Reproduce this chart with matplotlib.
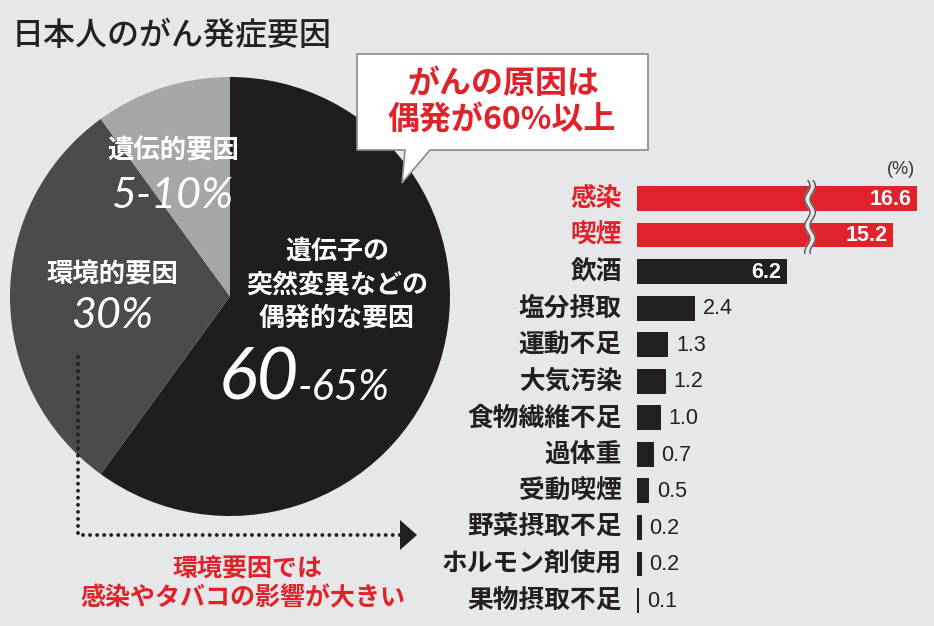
import numpy as np
import matplotlib
matplotlib.use('Agg')
import matplotlib.pyplot as plt
from matplotlib.patches import Polygon

W, H = 934, 626
BG = '#e6e7e8'
RED = '#e0232b'
DARK = '#221f20'
JP = ['Noto Sans CJK JP', 'DejaVu Sans']
NUMF = ['Lato', 'DejaVu Sans']

title = '日本人のがん発症要因'
callout = ['がんの原因は', '偶発が60%以上']
note = ['環境要因では', '感染やタバコの影響が大きい']

pie_values = [60, 30, 10]
pie_colors = ['#1f1d1e', '#4b4b4d', '#a4a6a8']
pie_names = ['遺伝子の\n突然変異などの\n偶発的な要因', '環境的要因', '遺伝的要因']
pie_pct = ['60', '-65%', '30%', '5-10%']

bar_categories = ['感染', '喫煙', '飲酒', '塩分摂取', '運動不足', '大気汚染',
                  '食物繊維不足', '過体重', '受動喫煙', '野菜摂取不足',
                  'ホルモン剤使用', '果物摂取不足']
bar_values = [16.6, 15.2, 6.2, 2.4, 1.3, 1.2, 1.0, 0.7, 0.5, 0.2, 0.2, 0.1]
bar_highlight = [True, True] + [False] * 10
unit = '(%)'

fig = plt.figure(figsize=(W / 100, H / 100), dpi=100, facecolor=BG)

def fbox(l, t, r, b):
    return [l / W, 1 - b / H, (r - l) / W, (b - t) / H]

# ---- pie ----
axp = fig.add_axes(fbox(10, 77, 450, 516))
axp.pie(pie_values, colors=pie_colors, startangle=90, counterclock=False,
        radius=1, wedgeprops=dict(linewidth=0))
axp.set_xlim(-1, 1); axp.set_ylim(-1, 1)
axp.set_aspect('auto')
axp.axis('off')

# ---- bars with broken axis ----
xp = np.array([-10, 0, 7.4, 14.0, 40])
fp = np.array([-10, 0, 7.4, 9.73, 9.73 + 0.707 * 26])
fwd = lambda v: np.interp(v, xp, fp)
inv = lambda v: np.interp(v, fp, xp)
PX = 24.2
axb = fig.add_axes(fbox(637, 180.2, 934, 618.8))
axb.set_xscale('function', functions=(fwd, inv))
axb.set_xlim(0, inv((934 - 637) / PX))
n = len(bar_categories)
axb.set_ylim(n - 0.5, -0.5)
axb.axis('off')
ypos = np.arange(n)
cols = [RED if h else DARK for h in bar_highlight]
axb.barh(ypos, bar_values, height=0.68, color=cols, linewidth=0)
for i, (c, v, h) in enumerate(zip(bar_categories, bar_values, bar_highlight)):
    axb.annotate(c, (0, i), xytext=(-11, 0), textcoords='offset points',
                 ha='right', va='center', fontsize=18.5, family=JP,
                 color=RED if h else '#231f20', fontweight='bold')
    if v > 5:
        axb.annotate(f'{v:.1f}', (v, i), xytext=(-4, -0.5), textcoords='offset points',
                     ha='right', va='center', fontsize=15.5, color='white',
                     family=['Liberation Sans'], fontweight='bold')
    else:
        axb.annotate(f'{v:.1f}', (v, i), xytext=(5.5, -0.5), textcoords='offset points',
                     ha='left', va='center', fontsize=15.5, color='#231f20',
                     family=['Liberation Sans'])
# break marks
yy = np.linspace(-0.52, 1.5, 200)
wave = 0.11 * np.sin((yy + 0.52) * 2 * np.pi / 0.72)
bx = 7.15
axb.plot(bx + wave, yy, color=BG, lw=4.5, solid_capstyle='butt', zorder=3)
axb.plot(bx - 0.11 + wave, yy, color='#555555', lw=1.0, zorder=4)
axb.plot(bx + 0.11 + wave, yy, color='#555555', lw=1.0, zorder=4)

# ---- overlay in pixel coords ----
ov = fig.add_axes([0, 0, 1, 1], facecolor='none')
ov.set_xlim(0, W); ov.set_ylim(H, 0); ov.axis('off')

ov.text(12, 36, title, fontsize=23, family=JP, fontweight='medium',
        color='#222222', ha='left', va='center')

# callout
box = Polygon([(357, 54), (648, 54), (648, 150), (430, 150), (402, 183),
               (405, 150), (357, 150)], closed=True, facecolor='white',
              edgecolor='#8a8a8a', linewidth=1.2, zorder=5)
ov.add_patch(box)
ov.text(503, 84, callout[0], fontsize=23, family=JP, fontweight='bold',
        color=RED, ha='center', va='center', zorder=6)
ov.text(502, 120, callout[1], fontsize=23, family=JP, fontweight='bold',
        color=RED, ha='center', va='center', zorder=6)

# pie labels
ov.text(173, 151, pie_names[2], fontsize=19, family=JP, fontweight='bold',
        color='white', ha='center', va='center')
ov.text(172, 208, pie_pct[3], fontsize=31, family=NUMF, style='italic',
        fontweight='normal', color='white', ha='center', va='baseline')
ov.text(112, 275, pie_names[1], fontsize=19, family=JP, fontweight='bold',
        color='white', ha='center', va='center')
ov.text(112, 328, pie_pct[2], fontsize=31, family=NUMF, style='italic',
        fontweight='normal', color='white', ha='center', va='baseline')
for k, (line, y) in enumerate(zip(pie_names[0].split('\n'), [251, 285, 318])):
    ov.text(337, y, line, fontsize=18.7, family=JP, fontweight='bold',
            color='white', ha='center', va='center')
ov.text(299, 400, pie_pct[0], fontsize=52, family=NUMF, style='italic',
        fontweight='normal', color='white', ha='right', va='baseline')
ov.text(298, 400, pie_pct[1], fontsize=30, family=NUMF, style='italic',
        fontweight='normal', color='white', ha='left', va='baseline')

# dotted arrow
ov.plot([78, 78, 401], [357, 535, 535], color='#231f20', lw=2.8,
        ls=(0, (0.01, 1.8)), dash_capstyle='round')
ov.add_patch(Polygon([(400, 520), (400, 550), (417, 535)], closed=True,
                     facecolor='#231f20', edgecolor='none'))
ov.text(247, 569, note[0], fontsize=18, family=JP, fontweight='bold',
        color=RED, ha='center', va='center')
ov.text(243, 598, note[1], fontsize=18, family=JP, fontweight='bold',
        color=RED, ha='center', va='center')

ov.text(915, 170, unit, fontsize=13, family=['Liberation Sans'],
        color='#333333', ha='right', va='center')

fig.savefig('out.png', dpi=100, facecolor=BG)
